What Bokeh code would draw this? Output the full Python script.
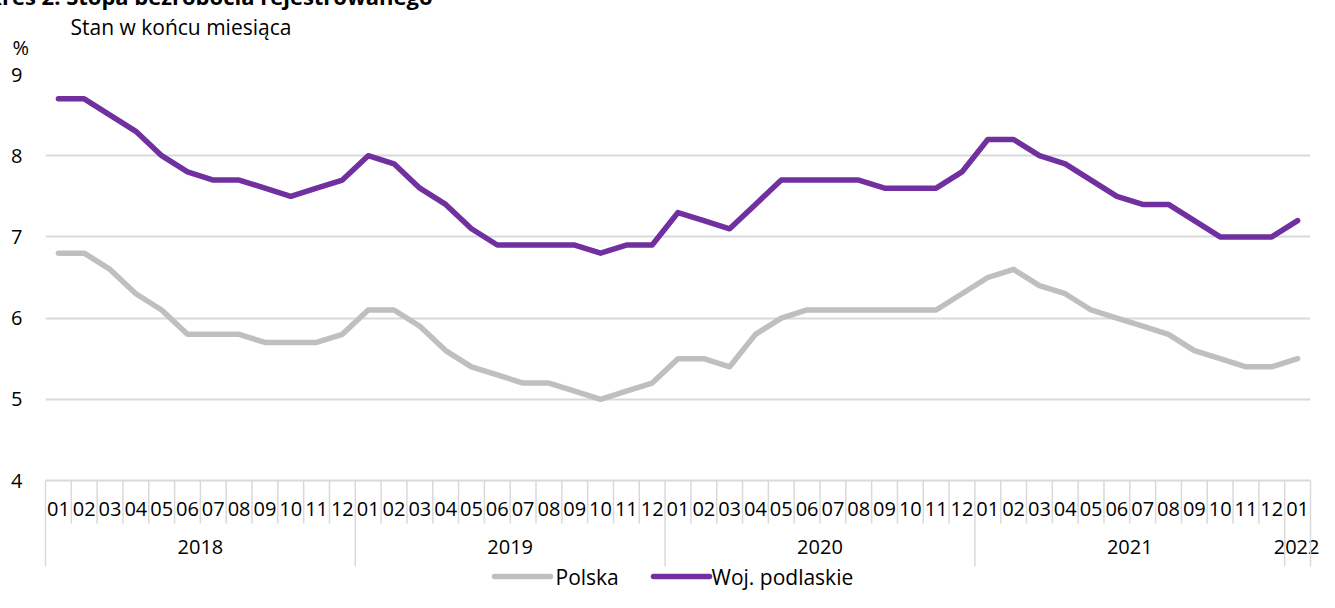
from bokeh.plotting import figure
from bokeh.models import FactorRange, Range1d, ColumnDataSource
from bokeh.core.properties import value
from bokeh.embed import file_html
from bokeh.resources import INLINE

# ---------------- data ----------------
years = ["2018", "2019", "2020", "2021", "2022"]
months = ["01", "02", "03", "04", "05", "06", "07", "08", "09", "10", "11", "12"]
months_2022 = ["01"]

polska = [6.8, 6.8, 6.6, 6.3, 6.1, 5.8, 5.8, 5.8, 5.7, 5.7, 5.7, 5.8,
          6.1, 6.1, 5.9, 5.6, 5.4, 5.3, 5.2, 5.2, 5.1, 5.0, 5.1, 5.2,
          5.5, 5.5, 5.4, 5.8, 6.0, 6.1, 6.1, 6.1, 6.1, 6.1, 6.1, 6.3,
          6.5, 6.6, 6.4, 6.3, 6.1, 6.0, 5.9, 5.8, 5.6, 5.5, 5.4, 5.4,
          5.5]
podlaskie = [8.7, 8.7, 8.5, 8.3, 8.0, 7.8, 7.7, 7.7, 7.6, 7.5, 7.6, 7.7,
             8.0, 7.9, 7.6, 7.4, 7.1, 6.9, 6.9, 6.9, 6.9, 6.8, 6.9, 6.9,
             7.3, 7.2, 7.1, 7.4, 7.7, 7.7, 7.7, 7.7, 7.6, 7.6, 7.6, 7.8,
             8.2, 8.2, 8.0, 7.9, 7.7, 7.5, 7.4, 7.4, 7.2, 7.0, 7.0, 7.0,
             7.2]
y_ticks = [4, 5, 6, 7, 8, 9]

title_text = "Wykres 2. Stopa bezrobocia rejestrowanego"
subtitle_text = "Stan w końcu miesiąca"
unit_text = "%"
series_names = ["Polska", "Woj. podlaskie"]

# ---------------- styling / layout ----------------
FONT = "Open Sans"
GREY = "#bfbfbf"
PURPLE = "#7030a0"
GRID = "#d9d9d9"
TXT = "#000000"

W, H = 1319, 592
BL, BR, BT, BB = 45, 9, 74, 112          # borders around the frame (px)
FRAME_W = W - BL - BR
FRAME_H = H - BT - BB

factors = [(y, m) for y in years[:4] for m in months] + \
          [(years[4], m) for m in months_2022]
n_fac = len(factors)
ymin, ymax = y_ticks[0], y_ticks[-1]

def px_to_x(px):        # horizontal canvas pixel -> synthetic categorical coordinate
    return (px - BL) / FRAME_W * n_fac

def px_to_y(py):        # vertical canvas pixel -> data y
    return ymax - (py - BT) / FRAME_H * (ymax - ymin)

src = ColumnDataSource(dict(x=factors, polska=polska, podlaskie=podlaskie))

p = figure(width=W, height=H,
           x_range=FactorRange(*factors, range_padding=0, factor_padding=0,
                               group_padding=0, subgroup_padding=0),
           y_range=Range1d(ymin, ymax),
           output_backend="svg", toolbar_location=None,
           min_border_left=BL, min_border_right=BR,
           min_border_top=BT, min_border_bottom=BB)
p.outline_line_color = None
p.background_fill_color = "white"
p.border_fill_color = "white"

# y axis
p.yaxis.ticker = y_ticks
p.yaxis.axis_line_color = None
p.yaxis.major_tick_line_color = None
p.yaxis.minor_tick_line_color = None
p.yaxis.major_tick_out = 0
p.yaxis.major_tick_in = 0
p.yaxis.major_label_standoff = 23
p.yaxis.major_label_text_font = FONT
p.yaxis.major_label_text_font_size = "20px"
p.yaxis.major_label_text_color = TXT

p.ygrid.grid_line_color = GRID
p.ygrid.grid_line_width = 2
p.xgrid.visible = False

# x axis (two-level categorical)
xa = p.xaxis[0]
xa.axis_line_color = GRID
xa.axis_line_width = 2
xa.major_tick_line_color = None
xa.major_tick_out = 0
xa.major_tick_in = 0
xa.major_label_standoff = 21
xa.major_label_text_font = FONT
xa.major_label_text_font_size = "20px"
xa.major_label_text_color = TXT
xa.group_text_font = FONT
xa.group_text_font_size = "20px"
xa.group_text_color = TXT
xa.group_text_font_style = "normal"
xa.separator_line_color = None

# separators between categories (short) and between years / edges (long)
short_end = px_to_y(BT + FRAME_H + 43)
long_end = px_to_y(BT + FRAME_H + 86)
sep_x, sep_y1 = [], []
for f in factors:
    sep_x.append((f[0], f[1], -0.5))
    sep_y1.append(long_end if f[1] == "01" else short_end)
sep_x.append((factors[-1][0], factors[-1][1], 0.5))
sep_y1.append(long_end)
sep_src = ColumnDataSource(dict(x=sep_x, y0=[ymin] * len(sep_x), y1=sep_y1))
p.segment(x0="x", y0="y0", x1="x", y1="y1", source=sep_src,
          line_color=GRID, line_width=1.5, level="overlay")

# data lines
p.line("x", "polska", source=src, line_color=GREY, line_width=5.5,
       line_cap="round", line_join="round")
p.line("x", "podlaskie", source=src, line_color=PURPLE, line_width=5.5,
       line_cap="round", line_join="round")

# legend (drawn below the axis)
leg_y_px = 576
leg_keys = dict(x0=[px_to_x(494), px_to_x(653)], x1=[px_to_x(550), px_to_x(709)],
                y=[px_to_y(leg_y_px)] * 2, c=[GREY, PURPLE])
p.segment(x0="x0", y0="y", x1="x1", y1="y", color="c", line_width=5.5,
          line_cap="round", source=ColumnDataSource(leg_keys), level="overlay")
p.text(x=[0, 0], y=[ymin, ymin], text=series_names,
       x_offset=[555 - BL, 711 - BL], y_offset=[leg_y_px - (BT + FRAME_H)] * 2,
       text_font=value(FONT), text_font_size="21px", text_color=TXT,
       text_baseline="middle", text_align="left", level="overlay")

# texts above the plot (the title is cut at the top edge, as in the source image)
p.text(x=[0], y=[ymax], text=[title_text], x_offset=-91, y_offset=-5 - BT,
       text_font=value(FONT), text_font_size="22px", text_font_style="bold",
       text_color=TXT, text_baseline="alphabetic", level="overlay")
p.text(x=[0], y=[ymax], text=[subtitle_text], x_offset=70 - BL, y_offset=26 - BT,
       text_font=value(FONT), text_font_size="21px",
       text_color=TXT, text_baseline="middle", level="overlay")
p.text(x=[0], y=[ymax], text=[unit_text], x_offset=12 - BL, y_offset=47 - BT,
       text_font=value(FONT), text_font_size="20px",
       text_color=TXT, text_baseline="middle", level="overlay")

open("out.html", "w").write(file_html(p, INLINE))
